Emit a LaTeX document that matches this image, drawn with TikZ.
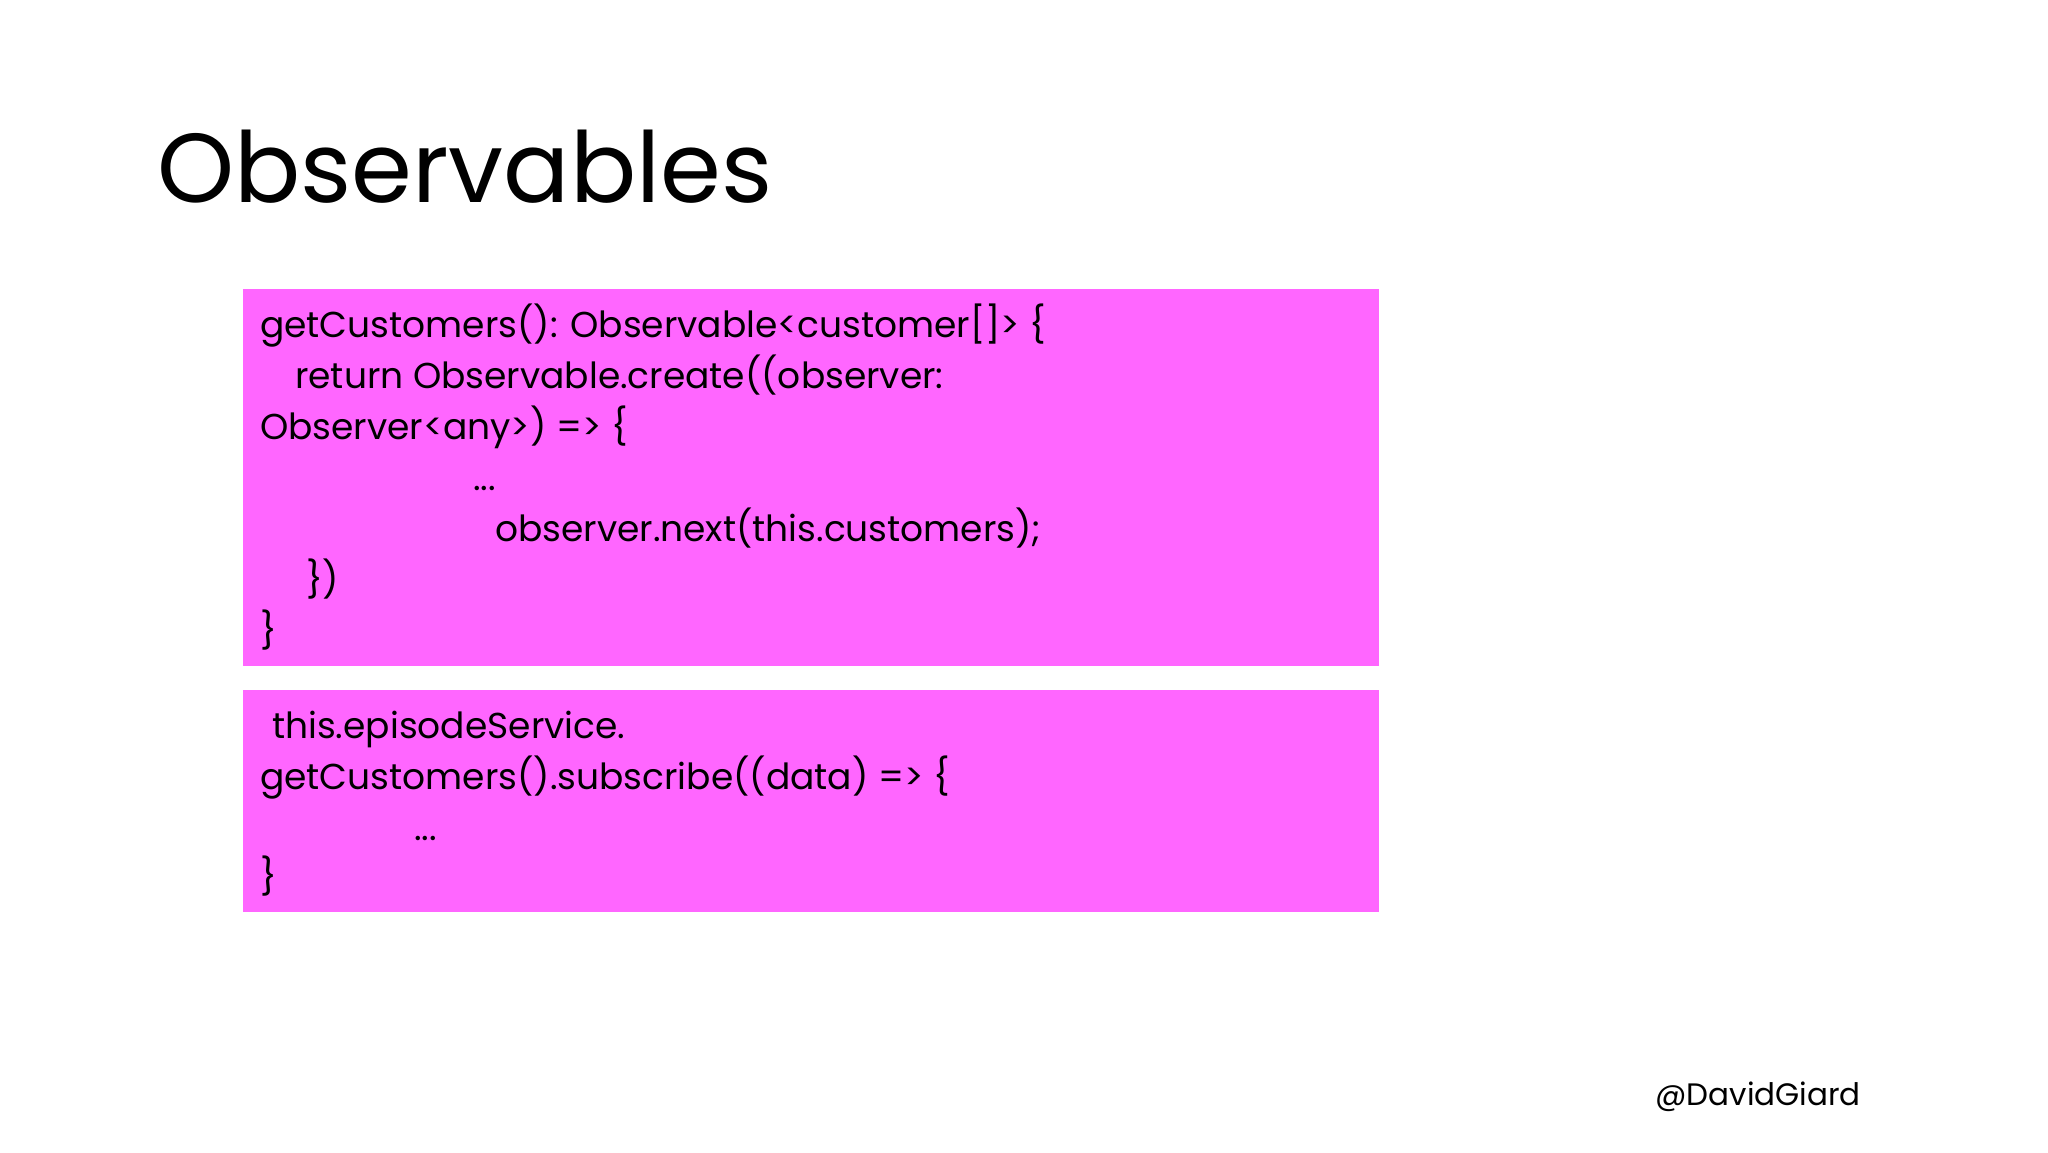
\documentclass[tikz,border=0pt]{standalone}
\usepackage{fontspec}
\setmainfont{Poppins}
\definecolor{codebg}{HTML}{FF66FF}
\begin{document}
\begin{tikzpicture}[x=1pt,y=-1pt,
  codebox/.style={fill=codebg,draw=none},
  code/.style={anchor=base west,inner sep=0pt,font=\fontsize{36}{40}\selectfont}]
\useasboundingbox (0,0) rectangle (2048,1152);
\fill[white] (0,0) rectangle (2048,1152);
\node[anchor=base west,inner sep=0pt,font=\fontsize{98}{110}\selectfont] (title) at (157,202) {Observables};
\path[codebox] (243,289) rectangle (1379,666);
\path[codebox] (243,690) rectangle (1379,912);
\node[code] (l1) at (260,337) {getCustomers(): Observable<customer[]> \{};
\node[code] (l2) at (295,388) {return Observable.create((observer:};
\node[code] (l3) at (260,439) {Observer<any>) => \{};
\node[code] (l4) at (473,490) {...};
\node[code] (l5) at (495,541) {observer.next(this.customers);};
\node[code] (l6) at (306,592) {\})};
\node[code] (l7) at (260,643) {\}};
\node[code] (m1) at (272,738) {this.episodeService.};
\node[code] (m2) at (260,789) {getCustomers().subscribe((data) => \{};
\node[code] (m3) at (414,840) {...};
\node[code] (m4) at (260,889) {\}};
\node[anchor=base east,inner sep=0pt,font=\fontsize{31}{36}\selectfont] (handle) at (1861,1105) {@DavidGiard};
\end{tikzpicture}
\end{document}
